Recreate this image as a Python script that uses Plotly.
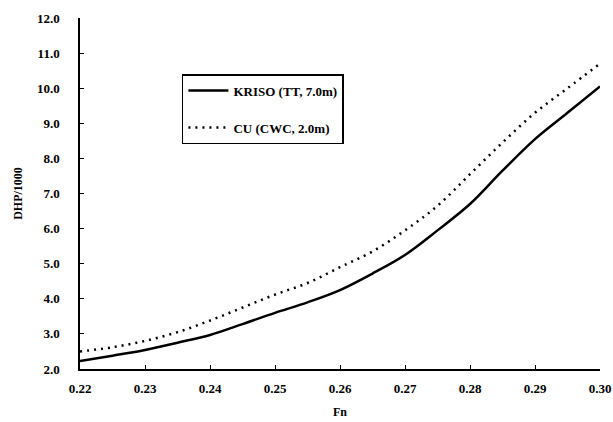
import plotly.graph_objects as go

fn = [0.22, 0.225, 0.23, 0.235, 0.24, 0.245, 0.25, 0.255, 0.26, 0.265,
      0.27, 0.275, 0.28, 0.285, 0.29, 0.295, 0.30]
kriso = [2.23, 2.38, 2.54, 2.75, 2.97, 3.28, 3.60, 3.90, 4.25, 4.72,
         5.25, 5.95, 6.70, 7.65, 8.55, 9.30, 10.05]
cu = [2.50, 2.62, 2.80, 3.05, 3.38, 3.75, 4.12, 4.45, 4.90, 5.35,
      5.95, 6.65, 7.55, 8.45, 9.30, 10.00, 10.70]

x_ticks = [0.22, 0.23, 0.24, 0.25, 0.26, 0.27, 0.28, 0.29, 0.30]
y_ticks = [2, 3, 4, 5, 6, 7, 8, 9, 10, 11, 12]

font_family = "Liberation Serif, Times New Roman, serif"

fig = go.Figure()
fig.add_trace(go.Scatter(x=fn, y=kriso, mode="lines", name="<b>KRISO (TT, 7.0m)</b>",
                         legendgroup="a",
                         line=dict(color="black", width=2.5, shape="spline")))
fig.add_trace(go.Scatter(x=fn, y=cu, mode="lines", name="<b>CU (CWC, 2.0m)</b>",
                         legendgroup="b",
                         line=dict(color="black", width=2.5, dash="2px,5px", shape="spline")))

fig.update_layout(
    width=613, height=422,
    margin=dict(l=80, r=13, t=18, b=53),
    paper_bgcolor="white", plot_bgcolor="white",
    font=dict(family=font_family, size=13, color="black"),
    showlegend=True,
    legend=dict(x=0.196, y=0.84, xanchor="left", yanchor="top",
                bordercolor="black", borderwidth=1.5, bgcolor="white",
                font=dict(size=13, family=font_family),
                traceorder="grouped", tracegroupgap=17,
                itemwidth=40),
    xaxis=dict(range=[0.22, 0.30], tickvals=x_ticks,
               ticktext=["<b>%.2f</b>" % v for v in x_ticks],
               showgrid=False, zeroline=False, showline=True, linecolor="black",
               linewidth=1.5, ticks="inside", ticklen=4, tickcolor="black",
               ticklabelstandoff=7, automargin=False,
               title=dict(text="<b>Fn</b>", font=dict(size=12), standoff=12)),
    yaxis=dict(range=[2, 12], tickvals=y_ticks,
               ticktext=["<b>%.1f</b>" % v for v in y_ticks],
               showgrid=False, zeroline=False, showline=True, linecolor="black",
               linewidth=1.5, ticks="inside", ticklen=4, tickcolor="black",
               ticklabelstandoff=16, automargin=False,
               title=dict(text="<b>DHP/1000</b>", font=dict(size=12), standoff=12)),
)

fig.write_html("out.html")
